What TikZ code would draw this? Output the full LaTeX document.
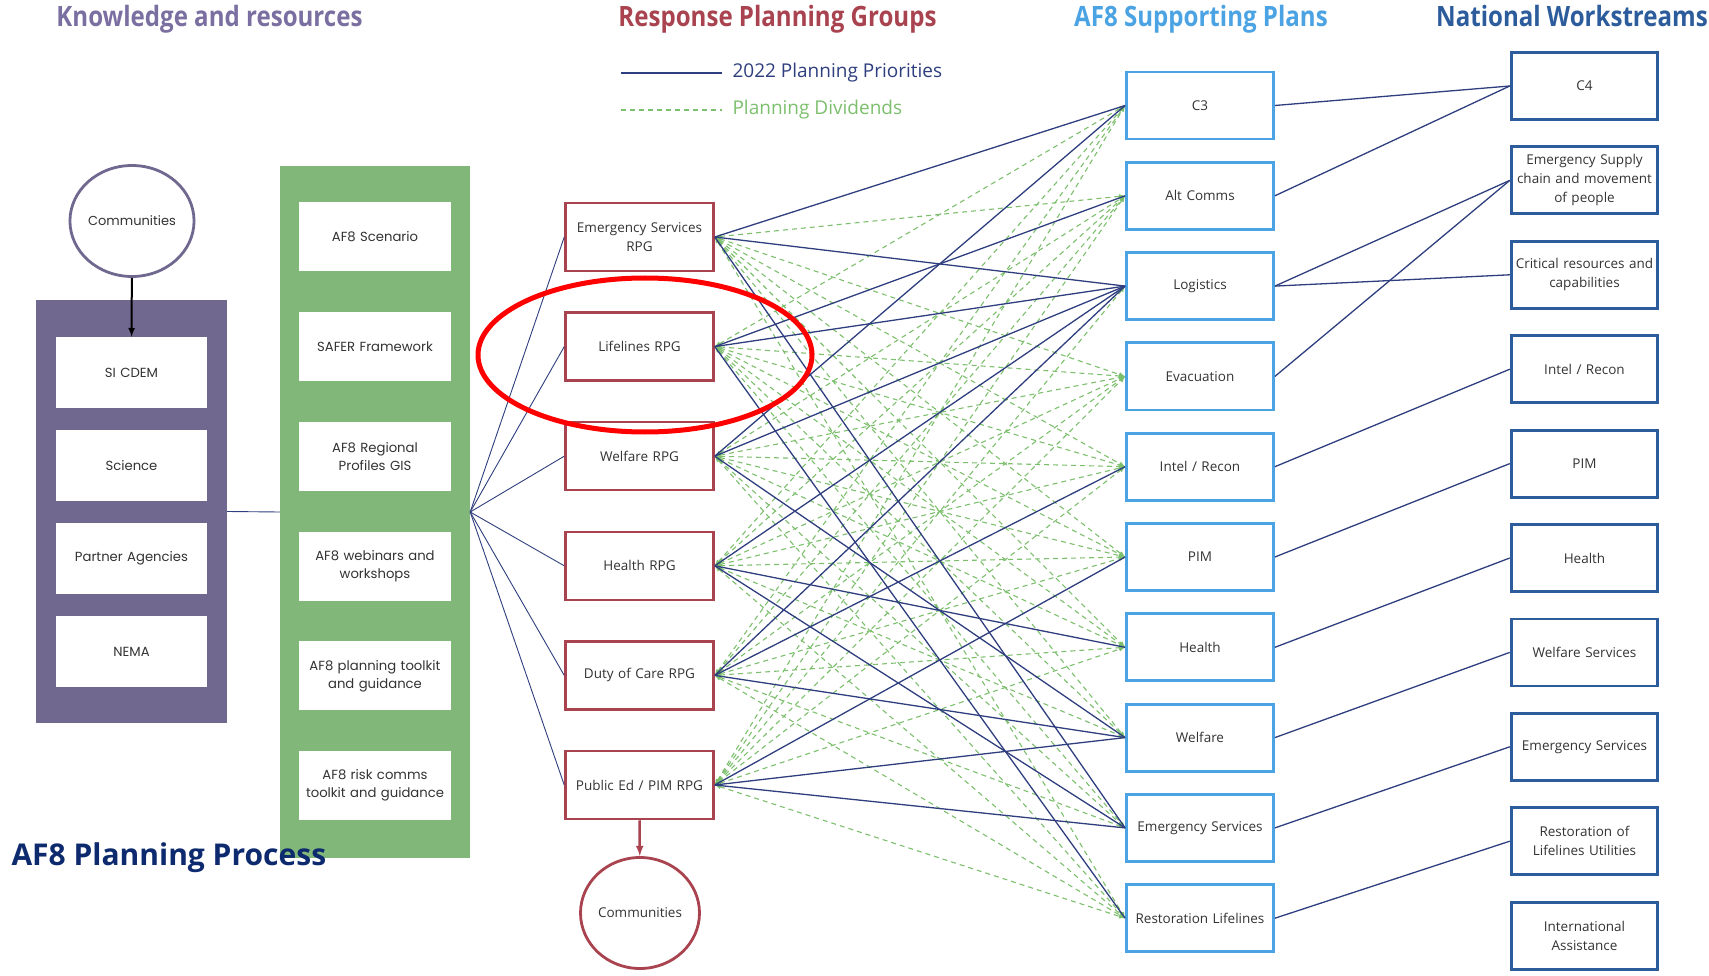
\documentclass[tikz,border=0pt]{standalone}
\usepackage{fontspec}
\setmainfont{Open Sans}
\newfontfamily\gothfont{Poppins}
\newfontfamily\headfont[FakeStretch=0.86]{Open Sans}
\usetikzlibrary{shapes.geometric,arrows,positioning}

\definecolor{kpurple}{HTML}{71688F}
\definecolor{ktitle}{HTML}{7A6FA0}
\definecolor{rgreen}{HTML}{82B77A}
\definecolor{rpgred}{HTML}{A8434F}
\definecolor{planblue}{HTML}{4BA3E3}
\definecolor{natblue}{HTML}{2D5C9C}
\definecolor{prionavy}{HTML}{2E3E7E}
\definecolor{divgreen}{HTML}{7CBF6D}
\definecolor{afnavy}{HTML}{0D2A6E}
\definecolor{boxtext}{HTML}{333333}

\begin{document}
\begin{tikzpicture}[x=1pt, y=-1pt, on grid]
    \tikzstyle{head} = [anchor=base, font=\headfont\bfseries\fontsize{28}{32}\selectfont]
    \tikzstyle{kbox} = [rectangle, fill=white, minimum width=151pt, minimum height=71pt, text width=145pt, align=center, font=\gothfont\fontsize{13.2}{18}\selectfont, text=boxtext]
    \tikzstyle{resbox} = [kbox, minimum width=148pt, minimum height=69pt]
    \tikzstyle{rpg} = [rectangle, draw=rpgred, line width=2.5pt, fill=white, minimum width=148pt, minimum height=68pt, text width=140pt, align=center, font=\fontsize{13.5}{19}\selectfont, text=boxtext]
    \tikzstyle{plan} = [rpg, draw=planblue, line width=2.8pt, minimum width=147pt, minimum height=67pt]
    \tikzstyle{nat} = [plan, draw=natblue, minimum width=146pt]
    \tikzstyle{comm} = [ellipse, line width=2.8pt, fill=white, inner sep=0pt, minimum width=119pt, minimum height=111pt, font=\fontsize{13.5}{17}\selectfont, text=boxtext]
    \tikzstyle{prio} = [draw=prionavy, line width=1.3pt]
    \tikzstyle{fan} = [draw=prionavy, line width=0.9pt]
    \tikzstyle{divid} = [draw=divgreen, line width=1.1pt, dash pattern=on 5pt off 4pt, latex-latex]

    \useasboundingbox (0,0) rectangle (1709,976);

    \node [head, text=ktitle] (hKnow) at (209.5,27) {Knowledge and resources};
    \node [head, text=rpgred] (hRpg) at (777.5,27) {Response Planning Groups};
    \node [head, text=planblue] (hPlan) at (1201,27) {AF8 Supporting Plans};
    \node [head, text=natblue] (hNat) at (1572,27) {National Workstreams};

    \coordinate (legA) at (621,73);
    \coordinate (legB) at (722,73);
    \coordinate (legC) at (621,110);
    \coordinate (legD) at (722,110);
    \node [anchor=west, text=prionavy, font=\fontsize{19}{22}\selectfont] (legPrio) at (729,73) {2022 Planning Priorities};
    \node [anchor=west, text=divgreen, font=\fontsize{19}{22}\selectfont] (legDiv) at (729,110) {Planning Dividends};
    \path [draw=prionavy, line width=1.5pt] (legA) -- (legB);
    \path [draw=divgreen, line width=1.3pt, dash pattern=on 5pt off 4pt] (legC) -- (legD);

    % knowledge column
    \node [rectangle, fill=kpurple, minimum width=191pt, minimum height=423pt] (kbg) at (131.5,511.5) {};
    \node [kbox] (kSI) at (131.5,372.5) {SI CDEM};
    \node [kbox, below=93pt of kSI] (kSci) {Science};
    \node [kbox, below=93pt of kSci] (kPart) {Partner Agencies};
    \node [kbox, below=93pt of kPart] (kNema) {NEMA};
    \node [comm, draw=kpurple, font=\gothfont\fontsize{13}{15}\selectfont] (commK) at (132,221) {Communities};
    \path [draw, line width=2pt, -latex] (commK) -- (kSI);

    \node [rectangle, fill=rgreen, minimum width=190pt, minimum height=692pt] (rbg) at (375,512) {};
    \node [resbox] (rScen) at (375,237) {AF8 Scenario};
    \node [resbox, below=109.7pt of rScen] (rSafer) {SAFER Framework};
    \node [resbox, below=109.7pt of rSafer] (rGis) {AF8 Regional\\Profiles GIS};
    \node [resbox, below=109.7pt of rGis] (rWeb) {AF8 webinars and\\workshops};
    \node [resbox, below=109.7pt of rWeb] (rTool) {AF8 planning toolkit\\and guidance};
    \node [resbox, below=109.7pt of rTool] (rRisk) {AF8 risk comms\\toolkit and guidance};
    \path [fan] (kbg.east) -- (rbg.west);

    \node [font=\bfseries\fontsize{30}{34}\selectfont, text=afnavy, anchor=west] (title) at (8,858) {AF8 Planning Process};

    % response planning groups
    \node [rpg] (rpgES) at (639.5,237) {Emergency Services\\RPG};
    \node [rpg, below=109.6pt of rpgES] (rpgLife) {Lifelines RPG};
    \node [rpg, below=109.6pt of rpgLife] (rpgWelf) {Welfare RPG};
    \node [rpg, below=109.6pt of rpgWelf] (rpgHea) {Health RPG};
    \node [rpg, below=109.6pt of rpgHea] (rpgDuty) {Duty of Care RPG};
    \node [rpg, below=109.6pt of rpgDuty] (rpgPub) {Public Ed / PIM RPG};
    \node [comm, draw=rpgred] (commR) at (640,913) {Communities};
    \path [draw=rpgred, line width=2.5pt, -latex] (rpgPub) -- (commR);
    \foreach \r in {rpgES,rpgLife,rpgWelf,rpgHea,rpgDuty,rpgPub}
        \path [fan] (rbg.east) -- (\r.west);

    % supporting plans
    \node [plan] (pC3) at (1200,105.5) {C3};
    \node [plan, below=90.3pt of pC3] (pAlt) {Alt Comms};
    \node [plan, below=90.3pt of pAlt] (pLog) {Logistics};
    \node [plan, below=90.3pt of pLog] (pEvac) {Evacuation};
    \node [plan, below=90.3pt of pEvac] (pIntel) {Intel / Recon};
    \node [plan, below=90.3pt of pIntel] (pPIM) {PIM};
    \node [plan, below=90.3pt of pPIM] (pHea) {Health};
    \node [plan, below=90.3pt of pHea] (pWelf) {Welfare};
    \node [plan, below=90.3pt of pWelf] (pES) {Emergency Services};
    \node [plan, below=90.3pt of pES] (pRest) {Restoration Lifelines};

    % national workstreams
    \node [nat] (nC4) at (1584.5,86) {C4};
    \node [nat, below=94.4pt of nC4] (nSupply) {Emergency Supply\\chain and movement\\of people};
    \node [nat, below=94.4pt of nSupply] (nCrit) {Critical resources and\\capabilities};
    \node [nat, below=94.4pt of nCrit] (nIntel) {Intel / Recon};
    \node [nat, below=94.4pt of nIntel] (nPIM) {PIM};
    \node [nat, below=94.4pt of nPIM] (nHea) {Health};
    \node [nat, below=94.4pt of nHea] (nWelf) {Welfare Services};
    \node [nat, below=94.4pt of nWelf] (nES) {Emergency Services};
    \node [nat, below=94.4pt of nES] (nRest) {Restoration of\\Lifelines Utilities};
    \node [nat, below=94.4pt of nRest] (nIntl) {International\\Assistance};

    % planning dividends
    \foreach \p in {pAlt,pEvac,pIntel,pPIM,pHea,pWelf,pRest} \path [divid] (rpgES.east) -- (\p.west);
    \foreach \p in {pC3,pEvac,pIntel,pPIM,pHea,pWelf,pES} \path [divid] (rpgLife.east) -- (\p.west);
    \foreach \p in {pAlt,pEvac,pIntel,pPIM,pHea,pES,pRest} \path [divid] (rpgWelf.east) -- (\p.west);
    \foreach \p in {pC3,pAlt,pEvac,pIntel,pPIM,pWelf,pRest} \path [divid] (rpgHea.east) -- (\p.west);
    \foreach \p in {pC3,pAlt,pEvac,pPIM,pHea,pES,pRest} \path [divid] (rpgDuty.east) -- (\p.west);
    \foreach \p in {pC3,pAlt,pLog,pEvac,pIntel,pHea,pRest} \path [divid] (rpgPub.east) -- (\p.west);

    % planning priorities
    \foreach \p in {pC3,pLog,pES} \path [prio] (rpgES.east) -- (\p.west);
    \foreach \p in {pAlt,pLog,pRest} \path [prio] (rpgLife.east) -- (\p.west);
    \foreach \p in {pC3,pLog,pWelf} \path [prio] (rpgWelf.east) -- (\p.west);
    \foreach \p in {pLog,pHea,pES} \path [prio] (rpgHea.east) -- (\p.west);
    \foreach \p in {pLog,pIntel,pWelf} \path [prio] (rpgDuty.east) -- (\p.west);
    \foreach \p in {pPIM,pWelf,pES} \path [prio] (rpgPub.east) -- (\p.west);

    \path [prio] (pC3.east) -- (nC4.west);
    \path [prio] (pAlt.east) -- (nC4.west);
    \path [prio] (pLog.east) -- (nSupply.west);
    \path [prio] (pLog.east) -- (nCrit.west);
    \path [prio] (pEvac.east) -- (nSupply.west);
    \path [prio] (pIntel.east) -- (nIntel.west);
    \path [prio] (pPIM.east) -- (nPIM.west);
    \path [prio] (pHea.east) -- (nHea.west);
    \path [prio] (pWelf.east) -- (nWelf.west);
    \path [prio] (pES.east) -- (nES.west);
    \path [prio] (pRest.east) -- (nRest.west);

    \draw [red, line width=5pt] (645,355) ellipse [x radius=167pt, y radius=77pt];
\end{tikzpicture}
\end{document}
